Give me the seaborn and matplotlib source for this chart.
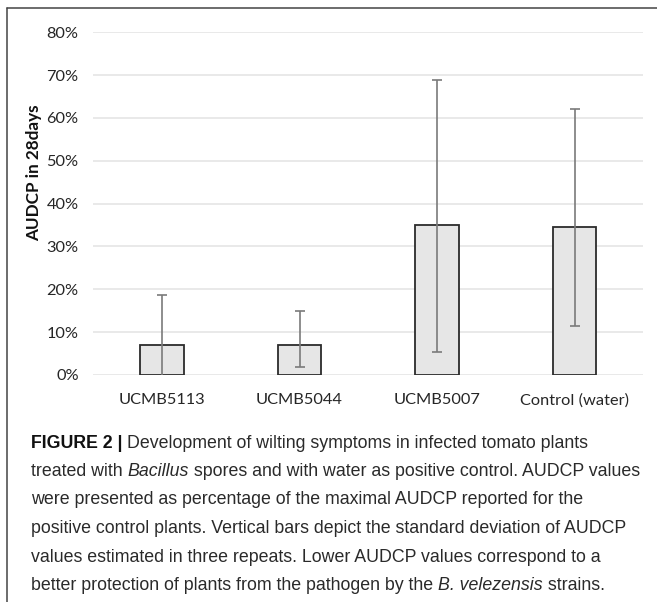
import matplotlib
matplotlib.use("Agg")
import matplotlib.pyplot as plt
import matplotlib.lines as mlines
import numpy as np
import pandas as pd
import seaborn as sns

# Disease severity (AUDCP over 28 days, % of max control AUDCP)
strains = ["UCMB5113", "UCMB5044", "UCMB5007", "Control (water)"]
audcp = [7.0, 7.0, 35.1, 34.6]
err_low = [-4.6, 1.9, 5.4, 11.4]    # lower end of the deviation bar
err_high = [18.6, 14.9, 68.8, 62.1]  # upper end of the deviation bar
y_ticks = [0, 10, 20, 30, 40, 50, 60, 70, 80]

caption_lines = [
    [("FIGURE 2 | ", "bold"), ("Development of wilting symptoms in infected tomato plants", "normal")],
    [("treated with ", "normal"), ("Bacillus", "italic"), (" spores and with water as positive control. AUDCP values", "normal")],
    [("were presented as percentage of the maximal AUDCP reported for the", "normal")],
    [("positive control plants. Vertical bars depict the standard deviation of AUDCP", "normal")],
    [("values estimated in three repeats. Lower AUDCP values correspond to a", "normal")],
    [("better protection of plants from the pathogen by the ", "normal"), ("B. velezensis", "italic"), (" strains.", "normal")],
]

df = pd.DataFrame({"strain": strains, "audcp": audcp})

sns.set_theme(style="white")
plt.rcParams["font.family"] = ["Lato", "DejaVu Sans"]

W, H, DPI = 657, 602, 100
fig = plt.figure(figsize=(W / DPI, H / DPI), dpi=DPI)
ax = fig.add_axes([93.3 / W, 1 - 375 / H, 550 / W, (375 - 32.3) / H])

sns.barplot(data=df, x="strain", y="audcp", ax=ax, color="#e6e6e6",
            edgecolor="#2b2b2b", linewidth=1.3, width=0.317, saturation=1,
            errorbar=None, zorder=3)

pos = np.arange(len(strains))
means = np.array(audcp)
yerr = np.vstack([means - np.array(err_low), np.array(err_high) - means])
ax.errorbar(pos, means, yerr=yerr, fmt="none", ecolor="#7a7a7a",
            elinewidth=1.2, capsize=3.5, capthick=1.2, zorder=4)

ax.set_ylim(0, 80)
ax.set_xlim(-0.5, len(strains) - 0.5)
ax.set_yticks(y_ticks)
ax.set_yticklabels([f"{t}%" for t in y_ticks])
ax.yaxis.grid(True, color="#e3e3e3", linewidth=1.1, zorder=0)
ax.set_axisbelow(True)
for s in ax.spines.values():
    s.set_visible(False)
ax.tick_params(axis="both", length=0, labelsize=11.8, colors="#262626")
ax.tick_params(axis="y", pad=10.5)
ax.tick_params(axis="x", pad=13)
ax.set_xlabel("")
ax.set_ylabel("AUDCP in 28days", fontsize=12.3, fontweight="bold",
              color="#111111")
ax.yaxis.set_label_coords(-0.094, 0.59)

# frame lines on top and left of the figure panel
fig.add_artist(mlines.Line2D([7 / W, 1], [1 - 8 / H, 1 - 8 / H],
                             color="#444444", linewidth=1.1))
fig.add_artist(mlines.Line2D([7 / W, 7 / W], [0, 1 - 8 / H],
                             color="#444444", linewidth=1.1))

# caption, drawn part by part so italic words stay inline
renderer = fig.canvas.get_renderer()
cap_font = ["Liberation Sans", "DejaVu Sans"]
x0 = 31
y0 = 443
step = 28.5
for i, parts in enumerate(caption_lines):
    x = x0
    y = 1 - (y0 + i * step) / H
    for txt, style in parts:
        kw = dict(fontsize=12.75, color="#2a2a2a", va="center", ha="left",
                  family=cap_font)
        if style == "bold":
            kw.update(fontweight="bold", color="#111111")
        if style == "italic":
            kw.update(fontstyle="italic")
        t = fig.text(x / W, y, txt, **kw)
        bb = t.get_window_extent(renderer=renderer)
        x += bb.width

fig.savefig("out.png", dpi=DPI)
